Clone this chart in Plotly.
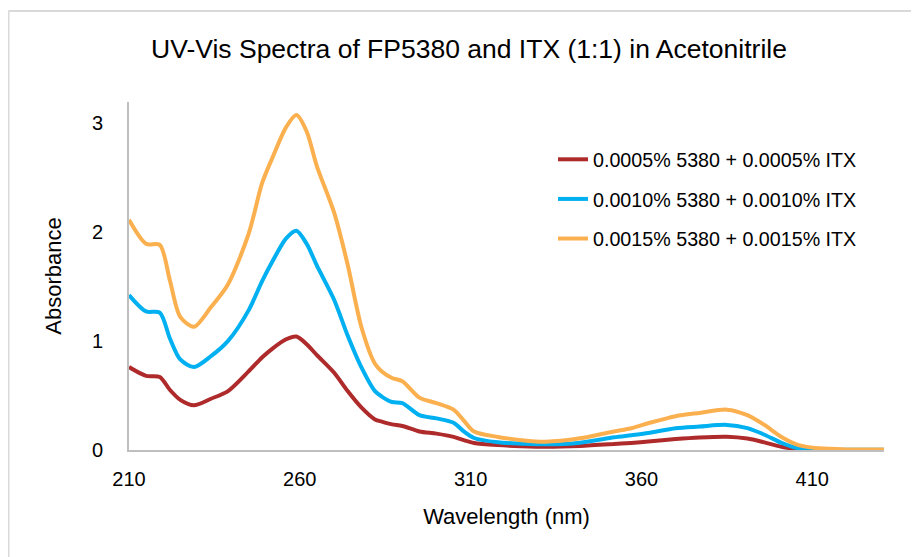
import plotly.graph_objects as go

wavelength = [210, 215, 219, 222, 225, 229, 234, 239, 245, 249, 252, 256, 259, 262, 265, 270, 274, 278,
              282, 284, 287, 290, 295, 300, 305, 308, 311, 318, 325, 332, 342, 352, 357, 362,
              370, 377, 385, 391, 396, 401, 406, 412, 420, 431]

abs_0005 = [0.76, 0.68, 0.67, 0.55, 0.46, 0.41, 0.47, 0.54, 0.72, 0.85, 0.93, 1.015, 1.04, 0.97, 0.87, 0.71, 0.54, 0.39,
            0.28, 0.26, 0.235, 0.22, 0.17, 0.15, 0.12, 0.09, 0.065, 0.045, 0.035, 0.03, 0.037, 0.055, 0.065, 0.077,
            0.10, 0.115, 0.122, 0.105, 0.07, 0.03, 0.008, 0.002, 0.001, 0.001]

abs_0010 = [1.42, 1.27, 1.26, 1.02, 0.83, 0.76, 0.86, 1.00, 1.28, 1.55, 1.73, 1.94, 2.01, 1.89, 1.69, 1.38, 1.05, 0.76,
            0.54, 0.49, 0.44, 0.43, 0.32, 0.29, 0.25, 0.17, 0.11, 0.07, 0.058, 0.052, 0.067, 0.116, 0.135, 0.155,
            0.20, 0.215, 0.23, 0.20, 0.14, 0.065, 0.015, 0.005, 0.003, 0.003]

abs_0015 = [2.11, 1.89, 1.88, 1.55, 1.22, 1.13, 1.31, 1.52, 1.98, 2.45, 2.68, 2.96, 3.07, 2.92, 2.60, 2.18, 1.70, 1.13,
            0.79, 0.72, 0.66, 0.63, 0.48, 0.43, 0.37, 0.27, 0.17, 0.12, 0.09, 0.076, 0.107, 0.17, 0.20, 0.245,
            0.31, 0.34, 0.37, 0.32, 0.23, 0.12, 0.045, 0.015, 0.005, 0.005]

series_names = ["0.0005% 5380 + 0.0005% ITX",
                "0.0010% 5380 + 0.0010% ITX",
                "0.0015% 5380 + 0.0015% ITX"]
series_values = [abs_0005, abs_0010, abs_0015]
colors = ["#AE2A2B", "#00B0F0", "#FBB04F"]

x_ticks = [210, 260, 310, 360, 410]
y_ticks = [0, 1, 2, 3]

FONT = "Liberation Sans, Arial, sans-serif"

OFF = 8  # page body margin
W, H = 919 - OFF, 557 - OFF
L, T = 129 - OFF, 102 - OFF
R, B = W - (884 - OFF), H - (450 - OFF)
PW, PH = W - L - R, H - T - B

fig = go.Figure()
for i, (name, vals, col) in enumerate(zip(series_names, series_values, colors)):
    fig.add_trace(go.Scatter(x=wavelength, y=vals, name=name, mode="lines", legendgroup=f"g{i}",
                             line=dict(color=col, width=4, shape="spline", smoothing=0.8)))

bx, by = 0.5, 11 - OFF
fig.update_layout(
    width=W, height=H,
    paper_bgcolor="white", plot_bgcolor="white",
    margin=dict(l=L, r=R, t=T, b=B, autoexpand=False),
    font=dict(family=FONT, color="#000000", size=20),
    title=dict(text="UV-Vis Spectra of FP5380 and ITX (1:1) in Acetonitrile",
               x=(469 - OFF) / W, xanchor="center", y=1 - (49 - OFF) / H, yanchor="middle",
               font=dict(size=26.5, family=FONT)),
    showlegend=True,
    legend=dict(x=(593 - 40 - OFF - L) / PW, xanchor="left", y=1 - (161 - 21 - OFF - T) / PH, yanchor="top",
                font=dict(size=19.7, family=FONT), bgcolor="rgba(0,0,0,0)", tracegroupgap=11),
    shapes=[dict(type="line", xref="paper", yref="paper", x0=(bx - L) / PW, x1=(W - L) / PW,
                 y0=1 + (T - by) / PH, y1=1 + (T - by) / PH, line=dict(color="#D9D9D9", width=2)),
            dict(type="line", xref="paper", yref="paper", x0=(bx - L) / PW, x1=(bx - L) / PW,
                 y0=1 + (T - by) / PH, y1=-B / PH, line=dict(color="#D9D9D9", width=2))],
)
fig.update_xaxes(range=[210, 431], tickvals=x_ticks, ticktext=[str(v) for v in x_ticks],
                 showgrid=False, zeroline=False, showline=True, linecolor="#BFBFBF", linewidth=2,
                 ticks="", ticklabelstandoff=10, tickfont=dict(size=20),
                 title=dict(text="Wavelength (nm)", font=dict(size=22), standoff=20))
fig.update_yaxes(range=[0, 3.19], tickvals=y_ticks, ticktext=[str(v) for v in y_ticks],
                 showgrid=False, zeroline=False, showline=True, linecolor="#BFBFBF", linewidth=2,
                 ticks="", ticklabelstandoff=20, tickfont=dict(size=20),
                 title=dict(text="Absorbance", font=dict(size=22), standoff=24))

fig.write_html("out.html")
